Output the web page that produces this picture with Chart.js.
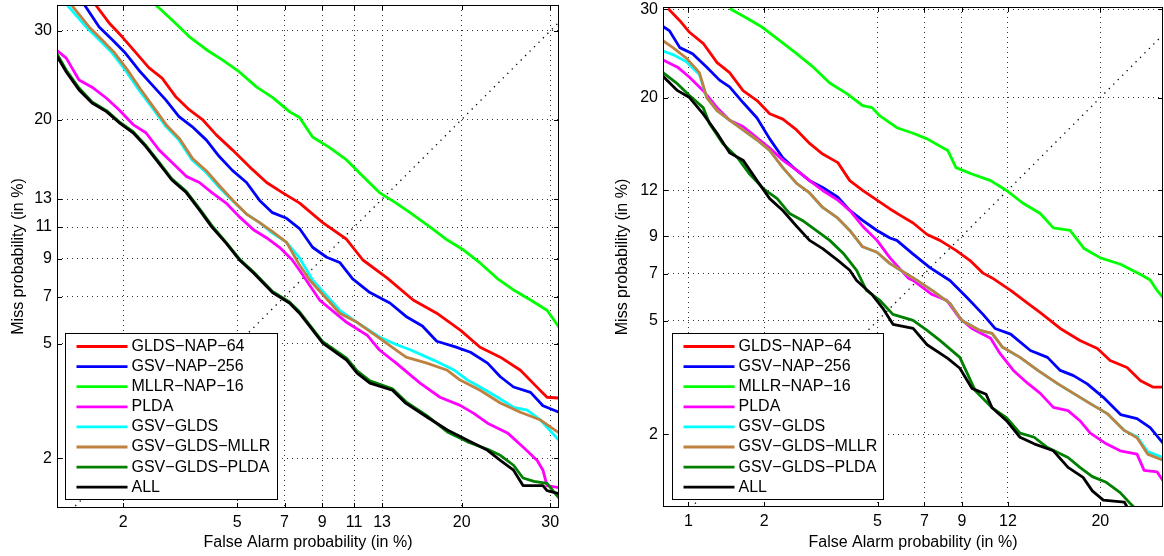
<!DOCTYPE html>
<html>
<head>
<meta charset="utf-8">
<title>DET curves</title>
<script src="https://cdn.jsdelivr.net/npm/chart.js@4.4.1/dist/chart.umd.min.js"></script>
<style>
  body { margin: 0; background: #fff; }
  .panel { position: absolute; top: 0; width: 582px; height: 556px; }
</style>
</head>
<body>
<div class="panel" style="left:0"><canvas id="detLeft" width="582" height="556"></canvas></div>
<div class="panel" style="left:582px"><canvas id="detRight" width="582" height="556"></canvas></div>
<script>
// series names / colours (same order in both panels, ALL drawn last)
const seriesNames = ["GLDS\u2212NAP\u221264", "GSV\u2212NAP\u2212256", "MLLR\u2212NAP\u221216", "PLDA",
  "GSV\u2212GLDS", "GSV\u2212GLDS\u2212MLLR", "GSV\u2212GLDS\u2212PLDA", "ALL"];
const seriesColors = ["#ff0000", "#0000ff", "#00ff00", "#ff00ff", "#00ffff", "#bf8040", "#008000", "#000000"];

// axis limits and ticks, in %
const leftXRange = [1.1, 31.1];
const leftYRange = [1.28, 33.3];
const leftXTicks = [2, 5, 7, 9, 11, 13, 20, 30];
const leftYTicks = [2, 5, 7, 9, 11, 13, 20, 30];
const rightXRange = [0.78, 26.9];
const rightYRange = [1.03, 30.3];
const rightXTicks = [1, 2, 5, 7, 9, 12, 20];
const rightYTicks = [2, 5, 7, 9, 12, 20, 30];

// [false alarm %, miss %]
const leftGldsNap64 = [[1.57,33.3],[1.77,31.0],[1.98,29.3],[2.24,27.3],[2.49,25.6],[2.78,24.4],[3.12,22.3],[3.46,21.0],[3.84,20.0],[4.27,18.5],[4.82,17.1],[5.47,15.6],[6.18,14.3],[6.90,13.5],[7.76,12.7],[9.03,11.3],[10.5,10.2],[11.6,8.94],[13.4,7.94],[15.5,6.84],[17.6,6.24],[19.9,5.52],[21.9,4.88],[24.1,4.53],[26.4,4.10],[28.4,3.59],[29.6,3.32],[31.1,3.30]];
const leftGsvNap256 = [[1.42,33.3],[1.62,30.5],[1.82,28.9],[2.04,27.3],[2.29,25.3],[2.55,23.7],[2.87,22.0],[3.19,20.3],[3.54,19.3],[3.96,18.0],[4.37,16.5],[4.82,15.3],[5.35,14.3],[5.88,12.9],[6.44,12.0],[7.10,11.6],[7.75,10.9],[8.45,9.7],[9.26,9.1],[10.06,8.8],[10.9,7.9],[12.1,7.2],[13.6,6.7],[14.9,6.1],[16.3,5.7],[17.6,5.1],[19.3,4.9],[20.9,4.7],[22.7,4.33],[24.1,3.9],[25.6,3.6],[27.6,3.45],[29.1,3.1],[31.1,2.94]];
const leftMllrNap16 = [[2.64,33.3],[3.01,31.4],[3.46,29.3],[3.96,27.7],[4.47,26.5],[5.08,25.1],[5.76,23.4],[6.44,22.3],[7.24,20.8],[7.75,20.2],[8.45,18.3],[9.44,17.3],[10.5,16.2],[11.6,14.8],[12.8,13.5],[14.1,12.7],[15.3,11.96],[17.0,11.0],[18.6,10.15],[20.2,9.53],[21.9,8.77],[23.8,7.9],[25.6,7.33],[27.6,6.84],[29.6,6.37],[31.1,5.65]];
const leftPlda = [[1.09,27.7],[1.20,26.7],[1.35,24.2],[1.52,23.4],[1.73,22.2],[1.93,21.0],[2.18,19.5],[2.43,18.7],[2.71,17.1],[3.01,16.0],[3.38,14.8],[3.75,14.3],[4.13,13.5],[4.60,12.7],[5.08,11.7],[5.64,10.8],[6.17,10.3],[6.76,9.7],[7.38,8.94],[7.75,8.36],[8.85,6.84],[10.5,5.85],[11.9,5.33],[12.8,4.78],[14.1,4.33],[16.1,3.71],[17.9,3.32],[19.85,3.11],[21.2,2.92],[22.7,2.69],[24.9,2.48],[26.7,2.20],[28.4,1.96],[29.1,1.80],[29.6,1.57],[31.1,1.54]];
const leftGsvGlds = [[1.21,33.3],[1.44,30.5],[1.62,28.9],[1.82,27.3],[2.04,25.3],[2.29,23.1],[2.55,21.3],[2.87,19.3],[3.19,18.0],[3.54,16.2],[3.96,15.1],[4.37,13.9],[4.82,12.9],[5.35,11.9],[5.88,11.3],[6.44,10.6],[7.10,10.0],[7.75,9.06],[8.45,7.84],[10.06,6.37],[11.2,5.85],[12.8,5.26],[14.1,4.98],[15.3,4.78],[17.3,4.43],[19.3,4.10],[20.6,3.80],[21.9,3.60],[23.8,3.32],[25.6,3.06],[27.2,2.99],[28.8,2.76],[31.1,2.33]];
const leftGsvGldsMllr = [[1.26,33.3],[1.48,30.5],[1.66,28.9],[1.86,27.3],[2.07,25.4],[2.32,23.2],[2.57,21.4],[2.89,19.4],[3.21,18.1],[3.56,16.3],[3.98,15.2],[4.39,14.0],[4.84,12.9],[5.35,11.9],[5.88,11.3],[6.44,10.7],[7.10,10.0],[7.75,8.65],[8.29,7.84],[10.06,6.24],[11.2,5.85],[12.8,5.22],[14.9,4.53],[16.7,4.33],[18.6,4.10],[19.85,3.80],[21.9,3.51],[24.1,3.17],[26.4,2.94],[28.8,2.76],[31.1,2.48]];
const leftGsvGldsPlda = [[1.09,27.4],[1.20,25.3],[1.35,23.3],[1.52,21.8],[1.73,20.9],[1.93,19.8],[2.18,18.8],[2.43,17.5],[2.71,16.0],[3.01,14.6],[3.38,13.6],[3.75,12.3],[4.13,11.1],[4.60,10.0],[5.08,9.0],[5.64,8.25],[6.44,7.25],[7.24,6.75],[7.75,6.3],[9.03,5.08],[10.5,4.5],[11.2,4.08],[12.1,3.78],[13.8,3.55],[14.9,3.2],[16.7,2.86],[18.6,2.5],[20.6,2.3],[22.7,2.16],[24.1,2.05],[25.6,1.88],[26.7,1.68],[28.0,1.63],[29.6,1.60],[31.1,1.40]];
const leftAll = [[1.09,27.1],[1.20,25.1],[1.35,23.1],[1.52,21.7],[1.73,20.8],[1.93,19.7],[2.18,18.7],[2.43,17.4],[2.71,15.9],[3.01,14.5],[3.38,13.5],[3.75,12.2],[4.13,11.0],[4.60,9.96],[5.08,8.94],[5.64,8.2],[6.44,7.2],[7.24,6.7],[7.75,6.24],[9.03,5.03],[10.5,4.43],[11.2,4.01],[12.1,3.71],[13.8,3.51],[14.9,3.16],[16.7,2.83],[18.6,2.54],[20.6,2.33],[22.7,2.14],[24.1,1.96],[25.6,1.80],[26.7,1.57],[29.1,1.57],[29.6,1.50],[31.1,1.46]];

// right panel
const rightGldsNap64 = [[0.82,30.1],[0.92,28.6],[1.01,27.2],[1.15,25.9],[1.31,23.7],[1.47,22.6],[1.66,20.7],[1.88,19.7],[2.10,18.4],[2.35,17.9],[2.64,16.9],[2.94,15.7],[3.27,14.8],[3.69,14.1],[4.05,12.7],[4.47,11.98],[4.98,11.3],[5.48,10.7],[5.89,10.3],[6.47,9.8],[7.13,9.1],[7.78,8.76],[8.66,8.2],[9.47,7.67],[10.3,7.03],[10.9,6.8],[12.2,6.23],[13.5,5.68],[14.5,5.31],[16.2,4.72],[18.0,4.31],[19.7,4.05],[21.0,3.69],[22.8,3.49],[24.3,3.14],[25.7,2.98],[26.9,2.98]];
const rightGsvNap256 = [[0.78,27.9],[0.83,27.4],[0.92,25.4],[1.04,24.7],[1.19,23.2],[1.34,21.8],[1.47,21.1],[1.66,19.5],[1.88,18.0],[2.10,16.1],[2.35,14.5],[2.64,13.5],[2.94,12.7],[3.27,12.2],[3.69,11.5],[4.05,10.6],[4.47,9.96],[4.98,9.34],[5.48,8.9],[5.76,8.76],[6.47,8.0],[7.27,7.3],[8.32,6.68],[9.3,5.92],[10.3,5.24],[11.1,4.72],[12.2,4.52],[13.7,3.99],[15.1,3.78],[16.2,3.41],[17.4,3.27],[18.7,3.06],[20.3,2.74],[22.1,2.37],[23.9,2.29],[25.4,2.12],[26.9,1.85]];
const rightMllrNap16 = [[1.47,30.1],[1.72,28.9],[1.97,27.8],[2.29,26.2],[2.64,24.7],[3.03,23.2],[3.46,21.5],[3.96,20.4],[4.47,19.2],[4.8,19.0],[5.09,18.2],[5.76,17.1],[6.47,16.6],[7.13,16.1],[8.2,15.1],[8.66,13.7],[9.6,13.2],[10.8,12.7],[11.9,11.98],[13.1,11.1],[14.5,10.4],[15.6,9.5],[17.1,9.34],[18.4,8.3],[20.0,7.8],[22.1,7.47],[24.3,6.96],[25.4,6.7],[26.2,6.23],[26.9,5.92]];
const rightPlda = [[0.78,24.0],[0.90,23.2],[1.01,22.1],[1.15,20.7],[1.31,19.0],[1.47,17.8],[1.66,17.2],[1.88,16.2],[2.10,15.3],[2.35,14.3],[2.64,13.5],[2.94,12.7],[3.27,11.98],[3.69,11.3],[4.05,10.6],[4.47,9.6],[4.98,8.76],[5.48,7.8],[6.24,6.8],[6.47,6.68],[7.38,6.05],[8.15,5.80],[8.88,5.09],[9.6,4.72],[10.8,4.38],[11.44,3.9],[12.4,3.41],[13.5,3.07],[14.5,2.83],[15.6,2.52],[16.9,2.45],[18.0,2.25],[19.0,2.02],[20.6,1.84],[22.06,1.73],[23.9,1.68],[24.7,1.45],[26.2,1.43],[26.9,1.32]];
const rightGsvGlds = [[0.78,25.0],[0.86,24.6],[0.98,23.8],[1.11,22.4],[1.19,20.0],[1.31,18.7],[1.47,17.8],[1.66,16.9],[1.88,16.0],[2.10,15.1],[2.35,13.7],[2.64,12.5],[2.94,11.8],[3.27,10.8],[3.69,10.1],[4.05,9.34],[4.47,8.4],[4.98,8.1],[5.48,7.5],[6.47,6.8],[7.38,6.23],[8.32,5.68],[9.0,5.01],[10.1,4.65],[10.9,4.55],[11.6,4.1],[12.9,3.78],[14.3,3.41],[16.0,3.06],[17.4,2.83],[19.0,2.60],[20.7,2.39],[22.5,2.07],[23.9,1.96],[25.1,1.72],[26.9,1.63]];
const rightGsvGldsMllr = [[0.78,26.2],[0.86,25.4],[0.98,24.2],[1.11,22.6],[1.19,20.0],[1.31,18.7],[1.47,17.8],[1.66,16.9],[1.88,16.0],[2.10,15.1],[2.35,13.7],[2.64,12.5],[2.94,11.8],[3.27,10.8],[3.69,10.1],[4.05,9.34],[4.47,8.4],[4.98,8.1],[5.48,7.5],[6.47,6.8],[7.38,6.23],[8.32,5.68],[9.0,5.01],[10.1,4.65],[10.9,4.55],[11.6,4.1],[12.9,3.78],[14.3,3.41],[16.0,3.06],[17.4,2.83],[19.0,2.60],[20.7,2.39],[22.5,2.07],[23.9,1.94],[25.1,1.68],[26.9,1.59]];
const rightGsvGldsPlda = [[0.78,22.6],[0.90,21.4],[1.01,20.2],[1.15,19.0],[1.22,17.5],[1.38,15.7],[1.58,14.5],[1.76,13.2],[1.99,12.1],[2.24,11.4],[2.49,10.4],[2.77,9.96],[3.1,9.34],[3.46,8.76],[3.87,8.0],[4.27,7.17],[4.6,6.23],[5.09,5.8],[5.6,5.24],[6.47,5.01],[7.13,4.65],[7.78,4.31],[8.88,3.78],[9.8,2.90],[10.9,2.51],[11.9,2.31],[12.9,2.02],[14.0,1.95],[15.1,1.78],[16.9,1.63],[18.0,1.49],[19.2,1.37],[20.6,1.30],[22.06,1.18],[23.1,1.07],[23.9,1.0]];
const rightAll = [[0.78,22.2],[0.90,20.7],[1.01,20.0],[1.15,18.4],[1.31,16.6],[1.47,14.9],[1.66,14.3],[1.88,12.7],[2.10,11.4],[2.35,10.6],[2.64,9.6],[2.94,8.76],[3.27,8.3],[3.69,7.67],[4.05,7.17],[4.27,6.68],[4.8,6.05],[5.2,5.48],[5.6,4.87],[6.47,4.72],[7.13,4.17],[8.2,3.75],[8.88,3.47],[9.6,2.95],[10.5,2.81],[10.9,2.51],[11.9,2.25],[12.9,1.95],[14.0,1.84],[15.6,1.73],[16.9,1.49],[18.3,1.36],[19.2,1.20],[20.3,1.10],[22.5,1.08],[23.0,1.0]];

const diagonal = [[0.5, 0.5], [40, 40]];

// inverse normal CDF (Acklam), used for the DET (normal deviate) axes
function probit(p) {
  const a = [-39.69683028665376, 220.9460984245205, -275.9285104469687, 138.3577518672690, -30.66479806614716, 2.506628277459239];
  const b = [-54.47609879822406, 161.5858368580409, -155.6989798598866, 66.80131188771972, -13.28068155288572];
  const c = [-0.007784894002430293, -0.3223964580411365, -2.400758277161838, -2.549671500135068, 4.374664141464968, 2.938163982698783];
  const d = [0.007784695709041462, 0.3224671290700398, 2.445134137142996, 3.754408661907416];
  const tail = q => (((((c[0]*q+c[1])*q+c[2])*q+c[3])*q+c[4])*q+c[5]) / ((((d[0]*q+d[1])*q+d[2])*q+d[3])*q+1);
  if (p < 0.02425) return tail(Math.sqrt(-2 * Math.log(p)));
  if (p > 0.97575) return -tail(Math.sqrt(-2 * Math.log(1 - p)));
  const q = p - 0.5, r = q * q;
  return (((((a[0]*r+a[1])*r+a[2])*r+a[3])*r+a[4])*r+a[5])*q / (((((b[0]*r+b[1])*r+b[2])*r+b[3])*r+b[4])*r+1);
}

function normCdf(z) {
  const t = 1 / (1 + 0.2316419 * Math.abs(z));
  const p = 0.3989423 * Math.exp(-z * z / 2) * t * (0.3193815 + t * (-0.3565638 + t * (1.781478 + t * (-1.821256 + t * 1.330274))));
  return z > 0 ? 1 - p : p;
}

class ProbitScale extends Chart.Scale {
  static id = "probit";
  static defaults = {};
  determineDataLimits() {
    this.min = this.options.min;
    this.max = this.options.max;
  }
  buildTicks() { return []; }
  getLabelForValue(value) { return String(value); }
  configure() {
    super.configure();
    this._lo = probit(this.min / 100);
    this._hi = probit(this.max / 100);
  }
  getPixelForValue(value) {
    return this.getPixelForDecimal((probit(value / 100) - this._lo) / (this._hi - this._lo));
  }
  getValueForPixel(pixel) {
    return 100 * normCdf(this._lo + this.getDecimalForPixel(pixel) * (this._hi - this._lo));
  }
}
Chart.register(ProbitScale);

Chart.defaults.font.family = '"Liberation Sans", Arial, Helvetica, sans-serif';
Chart.defaults.font.size = 16;
Chart.defaults.color = "#000";

// box, inner tick marks and the legend, MATLAB style
const detFrame = {
  id: "detFrame",
  afterDraw(chart, args, opts) {
    const { ctx, chartArea: a, scales } = chart;
    ctx.save();
    ctx.strokeStyle = "#000";
    ctx.lineWidth = 1;
    ctx.strokeRect(a.left + 0.5, a.top + 0.5, a.right - a.left - 1, a.bottom - a.top - 1);
    ctx.beginPath();
    scales.x.ticks.forEach((t, i) => {
      const px = Math.round(scales.x.getPixelForTick(i)) + 0.5;
      ctx.moveTo(px, a.bottom); ctx.lineTo(px, a.bottom - 5);
      ctx.moveTo(px, a.top); ctx.lineTo(px, a.top + 5);
    });
    scales.y.ticks.forEach((t, i) => {
      const py = Math.round(scales.y.getPixelForTick(i)) + 0.5;
      ctx.moveTo(a.left, py); ctx.lineTo(a.left + 5, py);
      ctx.moveTo(a.right, py); ctx.lineTo(a.right - 5, py);
    });
    ctx.stroke();

    const bx = Math.round(a.left + opts.insetX) + 0.5;
    const by = Math.round(a.bottom - opts.insetY - opts.height) + 0.5;
    ctx.fillStyle = "#fff";
    ctx.fillRect(bx, by, opts.width, opts.height);
    ctx.strokeRect(bx, by, opts.width, opts.height);
    ctx.font = '16px "Liberation Sans", Arial, sans-serif';
    ctx.textBaseline = "middle";
    ctx.lineWidth = 2.8;
    seriesNames.forEach((name, i) => {
      const cy = by + 13 + i * 20.1;
      ctx.strokeStyle = seriesColors[i];
      ctx.beginPath();
      ctx.moveTo(bx + 11, cy);
      ctx.lineTo(bx + 62, cy);
      ctx.stroke();
      ctx.fillStyle = "#000";
      ctx.fillText(name, bx + 66, cy);
    });
    ctx.restore();
  }
};

function makeDatasets(seriesList) {
  const sets = seriesList.map((pts, i) => ({
    label: seriesNames[i],
    data: pts.map(([x, y]) => ({ x, y })),
    borderColor: seriesColors[i],
    borderWidth: 2.8,
    pointRadius: 0,
    tension: 0,
    fill: false,
    borderJoinStyle: "round",
    order: seriesList.length - i
  }));
  sets.push({
    label: "",
    data: diagonal.map(([x, y]) => ({ x, y })),
    borderColor: "#000",
    borderWidth: 1.3,
    borderDash: [1.3, 5],
    pointRadius: 0,
    order: 100
  });
  return sets;
}

function probitAxis(range, ticks, pos, fitSize, title, titlePad) {
  const horizontal = pos === "bottom";
  return {
    type: "probit",
    position: pos,
    min: range[0],
    max: range[1],
    afterBuildTicks: s => { s.ticks = ticks.map(v => ({ value: v })); },
    afterFit: s => {
      if (horizontal) { s.height = fitSize; s.paddingLeft = 0; s.paddingRight = 0; }
      else { s.width = fitSize; s.paddingTop = 0; s.paddingBottom = 0; }
    },
    grid: { color: "#333", lineWidth: 1, drawTicks: false },
    border: { display: false, dash: [1, 4] },
    ticks: { autoSkip: false, maxRotation: 0, padding: 5, font: { size: 16 }, callback: v => String(v) },
    title: { display: true, text: title, font: { size: 16 }, padding: titlePad }
  };
}

function buildDet(canvasId, seriesList, xr, yr, xt, yt, layout) {
  return new Chart(document.getElementById(canvasId), {
    type: "line",
    data: { datasets: makeDatasets(seriesList) },
    options: {
      responsive: false,
      animation: false,
      events: [],
      layout: { padding: layout.padding },
      scales: {
        x: probitAxis(xr, xt, "bottom", layout.xHeight, "False Alarm probability (in %)", { top: 0, bottom: 4 }),
        y: probitAxis(yr, yt, "left", layout.yWidth, "Miss probability (in %)", { top: layout.yTitlePad, bottom: 0 })
      },
      plugins: {
        legend: { display: false },
        tooltip: { enabled: false },
        detFrame: layout.legend
      }
    },
    plugins: [detFrame]
  });
}

buildDet("detLeft",
  [leftGldsNap64, leftGsvNap256, leftMllrNap16, leftPlda, leftGsvGlds, leftGsvGldsMllr, leftGsvGldsPlda, leftAll],
  leftXRange, leftYRange, leftXTicks, leftYTicks,
  { padding: { left: 0, right: 23, top: 5, bottom: 0 }, xHeight: 48, yWidth: 57, yTitlePad: 9,
    legend: { insetX: 8, insetY: 9, width: 212, height: 166 } });

buildDet("detRight",
  [rightGldsNap64, rightGsvNap256, rightMllrNap16, rightPlda, rightGsvGlds, rightGsvGldsMllr, rightGsvGldsPlda, rightAll],
  rightXRange, rightYRange, rightXTicks, rightYTicks,
  { padding: { left: 0, right: 1, top: 7, bottom: 0 }, xHeight: 49, yWidth: 81, yTitlePad: 31,
    legend: { insetX: 9, insetY: 8, width: 211, height: 166 } });
</script>
</body>
</html>
